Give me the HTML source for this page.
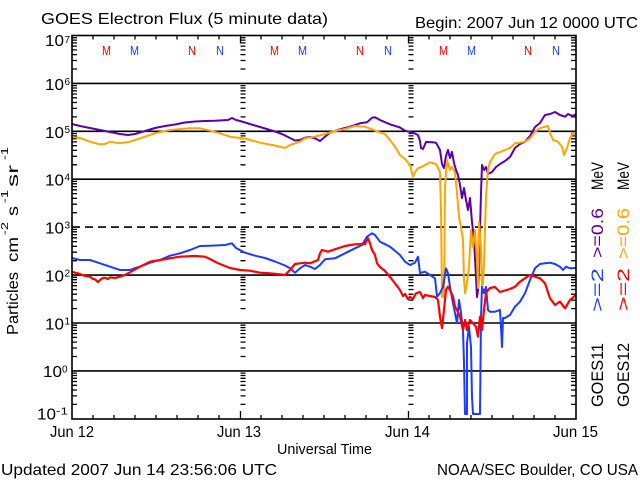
<!DOCTYPE html>
<html><head><meta charset="utf-8"><style>
html,body{margin:0;padding:0;background:#fff;}
svg{display:block;}
text{font-family:"Liberation Sans",sans-serif;fill:#000;}
</style></head><body>
<svg width="640" height="480" viewBox="0 0 640 480" xmlns="http://www.w3.org/2000/svg">
<defs>
<path id="tk" d="M0 37.7h5M0 40.1h5M0 42.9h5M0 46.1h5M0 49.9h5M0 54.6h5M0 60.5h5M0 69h5
M0 85.6h5M0 88h5M0 90.8h5M0 94h5M0 97.8h5M0 102.5h5M0 108.4h5M0 116.9h5
M0 133.5h5M0 135.9h5M0 138.7h5M0 141.9h5M0 145.7h5M0 150.4h5M0 156.3h5M0 164.8h5
M0 181.4h5M0 183.8h5M0 186.6h5M0 189.8h5M0 193.6h5M0 198.3h5M0 204.2h5M0 212.7h5
M0 229.4h5M0 231.8h5M0 234.6h5M0 237.8h5M0 241.6h5M0 246.3h5M0 252.2h5M0 260.7h5
M0 277.3h5M0 279.7h5M0 282.5h5M0 285.7h5M0 289.5h5M0 294.2h5M0 300.1h5M0 308.6h5
M0 325.2h5M0 327.6h5M0 330.4h5M0 333.6h5M0 337.4h5M0 342.1h5M0 348h5M0 356.5h5
M0 373.1h5M0 375.5h5M0 378.3h5M0 381.5h5M0 385.3h5M0 390h5M0 395.9h5M0 404.4h5" stroke="#000" stroke-width="1.3" fill="none"/>
</defs>

<text x="41" y="24" font-size="16" textLength="287" lengthAdjust="spacingAndGlyphs">GOES Electron Flux (5 minute data)</text>
<text x="415" y="28" font-size="16" textLength="223" lengthAdjust="spacingAndGlyphs">Begin: 2007 Jun 12 0000 UTC</text>

<g stroke="#000" stroke-width="1.6" fill="none">
<line x1="72" y1="83.4" x2="576" y2="83.4"/>
<line x1="72" y1="131.3" x2="576" y2="131.3"/>
<line x1="72" y1="179.2" x2="576" y2="179.2"/>
<line x1="72" y1="275.1" x2="576" y2="275.1"/>
<line x1="72" y1="323" x2="576" y2="323"/>
<line x1="72" y1="370.9" x2="576" y2="370.9"/>
<line x1="72" y1="227.1" x2="576" y2="227.1" stroke-dasharray="8,5"/>
</g>

<use href="#tk" x="72"/>
<use href="#tk" x="240.5"/>
<use href="#tk" x="408.5"/>
<use href="#tk" x="571"/>

<g stroke="#000" stroke-width="1.3">
<path d="M93 419v-4M114 419v-4M135 419v-4M156 419v-4M177 419v-4M198 419v-4M219 419v-4M240.5 419v-8M261 419v-4M282 419v-4M303 419v-4M324 419v-4M345 419v-4M366 419v-4M387 419v-4M408.5 419v-8M429 419v-4M450 419v-4M471 419v-4M492 419v-4M513 419v-4M534 419v-4M555 419v-4"/>
<path d="M93 35.5v4M114 35.5v4M135 35.5v4M156 35.5v4M177 35.5v4M198 35.5v4M219 35.5v4M240.5 35.5v8M261 35.5v4M282 35.5v4M303 35.5v4M324 35.5v4M345 35.5v4M366 35.5v4M387 35.5v4M408.5 35.5v8M429 35.5v4M450 35.5v4M471 35.5v4M492 35.5v4M513 35.5v4M534 35.5v4M555 35.5v4"/>
</g>

<g font-size="13">
<text x="102" y="55" style="fill:#f00" textLength="9" lengthAdjust="spacingAndGlyphs">M</text>
<text x="130" y="55" style="fill:#1e3cff" textLength="9" lengthAdjust="spacingAndGlyphs">M</text>
<text x="188" y="55" style="fill:#f00" textLength="8" lengthAdjust="spacingAndGlyphs">N</text>
<text x="216" y="55" style="fill:#1e3cff" textLength="8" lengthAdjust="spacingAndGlyphs">N</text>
<text x="270" y="55" style="fill:#f00" textLength="9" lengthAdjust="spacingAndGlyphs">M</text>
<text x="298" y="55" style="fill:#1e3cff" textLength="9" lengthAdjust="spacingAndGlyphs">M</text>
<text x="356" y="55" style="fill:#f00" textLength="8" lengthAdjust="spacingAndGlyphs">N</text>
<text x="384" y="55" style="fill:#1e3cff" textLength="8" lengthAdjust="spacingAndGlyphs">N</text>
<text x="439" y="55" style="fill:#f00" textLength="9" lengthAdjust="spacingAndGlyphs">M</text>
<text x="467" y="55" style="fill:#1e3cff" textLength="9" lengthAdjust="spacingAndGlyphs">M</text>
<text x="524" y="55" style="fill:#f00" textLength="8" lengthAdjust="spacingAndGlyphs">N</text>
<text x="552" y="55" style="fill:#1e3cff" textLength="8" lengthAdjust="spacingAndGlyphs">N</text>
</g>

<g fill="none" stroke-linejoin="round" stroke-width="2">
<polyline stroke="#5a00aa" points="72,124 80,126 90,128 100,130 110,132 120,134 128,135 135,134 145,131 155,128 165,126 175,124.5 185,122.5 195,121.5 205,121 215,120.8 228,120 232,118 236,120 240,121 245,122.5 255,125.5 265,128.5 275,131.5 282,134 288,137 295,140.5 300,140 305,137.7 310,137 315,138.3 320,141 325,136.7 330,132.7 340,129.3 350,126.7 360,123.3 367,122.3 372,117.7 375,117.3 380,120 390,124.3 400,127.5 405,130.7 413,132.7 418,135 420,141 421,148 423,149 426,142 432,142.3 436,142.7 440,150 442,164 444,168 446,156 448,150 450,158 452,152 454,163 456,170 458,175 460,185 462,198 464,188 466,200 468,210 470,198 472,222 474,240 476,277 477,297 478,290 479,270 480,230 481,193 482,165 484,170 486,167 488,174 492,172 496,167 500,164 505,161 510,157 515,148 520,144 525,141.7 530,136 535,127 540,123 545,115 550,114 555,112 560,115 565,116.7 568,114 570,115 573,116 576,114"/>
<polyline stroke="#ffa500" points="72,137 80,138 90,141.7 100,144.3 105,144 110,141.7 120,143.3 130,141.7 140,138.3 155,133.3 170,130 190,128.3 200,128.3 210,130.7 220,133.3 230,136.7 245,138.5 260,142.7 275,145.5 285,148 290,145 300,141.7 305,138.3 315,136.7 325,134 335,131 345,129 355,126 365,126.7 372,129.3 378,131.7 385,134 390,140 395,146.7 400,155 405,159 410,165 413,176.7 415,172 418,168.3 422,166.7 430,162.3 436,164 440,172 441,210 442,297 444,297 445,187 447,160 450,170 452,166.7 455,173 457,193 459,217 461,227 463,240 464,280 465,293 467,283 469,267 471,230 473,247 475,230 477,260 478,288 479,222 481,247 482,286 483,283 484,263 486,197 488,170 490,162 495,154 500,152 510,148 515,143.3 520,142.7 525,141.7 530,138.3 535,131.7 540,128.3 545,126.7 548,126 550,133 553,140 558,141.7 562,146.7 564,155 567,148 570,138 573,133 576,135"/>
<polyline stroke="#1e3cff" points="72,258 80,260 90,260 100,263.3 110,266.7 120,270 130,270 135,268 140,266.7 150,262.7 160,260 170,255.7 180,253.3 190,250 200,246 210,245.7 225,245 232,243.3 236,248 245,252.7 255,255.7 265,258 275,261.5 285,265.5 290,268.3 295,272.7 300,268.3 305,265 310,266.7 315,269 320,265 325,259.3 335,258.3 345,253.3 355,248.3 362,245 367,236.7 372,233.3 375,235 380,241.7 390,246.7 400,255 405,261.7 410,265 415,262.7 418,256.7 420,273 425,271.7 430,275 435,278.3 437,296.7 440,293 443,287 446,268.3 448,273.3 450,286.7 452,298 455,313 457,323 459,300 461,313 463,330 464,363 465,414 467,414 467,343 469,327 471,347 472,397 473,414 480,414 481,317 482,287 484,293 486,287 488,310 490,311.7 495,311.7 500,310 501,327 502,347 503,318 505,318 510,315 515,306.7 520,301.7 525,293.3 530,280 535,268.3 540,264 545,263.3 550,262.7 555,264 560,266.7 563,270 566,266.7 570,268.3 576,268"/>
<polyline stroke="#ff0000" stroke-width="2.2" points="72,271.7 76,273 80,274 85,276 90,276.7 93,279 95,279.3 98,282 100,280 103,278 105,277.7 108,279 110,277.3 115,278 120,276.7 125,275 130,272.3 140,266.7 150,261.7 160,260 170,258.3 180,256.7 195,256 205,256.7 210,259 215,261.7 220,264 230,268 240,270 250,270.7 260,272.7 270,273.3 280,274.3 285,275 290,270 295,264 305,262.7 310,263.3 318,260 320,253.3 322,250 328,251.7 335,249.3 345,246 355,244.3 365,244 368,238.3 370,243.3 372,250 375,255 377,263.3 380,267 385,271 390,277 395,283.3 400,290 403,296 405,294 408,299 410,296.7 413,299 416,293.3 420,292 423,298 425,295 430,296 435,297 438,300 440,316.7 442,328 444,310 446,290 448,286.7 450,290 453,296.7 455,306.7 457,310 460,316.7 463,330 465,320 467,330 470,320 473,323.3 476,326.7 478,336.7 480,316.7 482,330 484,310 486,293.3 488,290 490,288 495,287 500,292 505,290.5 510,289 515,286.7 520,281.7 525,278.3 530,275 535,276.7 540,278.3 545,283.3 550,298.3 555,305 560,301.7 565,308.3 570,300 576,295"/>
</g>

<rect x="72" y="35.5" width="504" height="383.5" fill="none" stroke="#000" stroke-width="1.6"/>

<g font-size="16">
<text x="45" y="46" textLength="19" lengthAdjust="spacingAndGlyphs">10</text>
<text x="45" y="90" textLength="19" lengthAdjust="spacingAndGlyphs">10</text>
<text x="45" y="137.8" textLength="19" lengthAdjust="spacingAndGlyphs">10</text>
<text x="45" y="185.7" textLength="19" lengthAdjust="spacingAndGlyphs">10</text>
<text x="45" y="233.6" textLength="19" lengthAdjust="spacingAndGlyphs">10</text>
<text x="45" y="281.6" textLength="19" lengthAdjust="spacingAndGlyphs">10</text>
<text x="45" y="329.5" textLength="19" lengthAdjust="spacingAndGlyphs">10</text>
<text x="43" y="377" textLength="19" lengthAdjust="spacingAndGlyphs">10</text>
<text x="37" y="419.5" textLength="19" lengthAdjust="spacingAndGlyphs">10</text>
</g>
<g font-size="10">
<text x="64.5" y="43">7</text>
<text x="64.5" y="85">6</text>
<text x="64.5" y="132.8">5</text>
<text x="64.5" y="180.7">4</text>
<text x="64.5" y="228.6">3</text>
<text x="64.5" y="276.6">2</text>
<text x="64.5" y="324.5">1</text>
<text x="62" y="372.5">0</text>
<text x="56" y="414.5" textLength="12" lengthAdjust="spacingAndGlyphs">-1</text>
</g>

<g font-size="16">
<text x="50" y="437" textLength="44" lengthAdjust="spacingAndGlyphs">Jun 12</text>
<text x="217" y="437" textLength="44" lengthAdjust="spacingAndGlyphs">Jun 13</text>
<text x="385" y="437" textLength="45" lengthAdjust="spacingAndGlyphs">Jun 14</text>
<text x="553" y="437" textLength="45" lengthAdjust="spacingAndGlyphs">Jun 15</text>
<text x="277" y="454" font-size="15" textLength="95" lengthAdjust="spacingAndGlyphs">Universal Time</text>
<text x="1" y="475" textLength="276" lengthAdjust="spacingAndGlyphs">Updated 2007 Jun 14 23:56:06 UTC</text>
<text x="437" y="475" textLength="201" lengthAdjust="spacingAndGlyphs">NOAA/SEC Boulder, CO USA</text>
</g>

<g transform="rotate(-90)">
<text x="-335" y="18" font-size="16" textLength="63" lengthAdjust="spacingAndGlyphs">Particles</text>
<text x="-262" y="18" font-size="16" textLength="25" lengthAdjust="spacingAndGlyphs">cm</text>
<text x="-235" y="8" font-size="10" textLength="13" lengthAdjust="spacingAndGlyphs">-2</text>
<text x="-216" y="18" font-size="16" textLength="10" lengthAdjust="spacingAndGlyphs">s</text>
<text x="-203" y="8" font-size="10" textLength="13" lengthAdjust="spacingAndGlyphs">-1</text>
<text x="-187" y="18" font-size="16" textLength="22" lengthAdjust="spacingAndGlyphs">sr</text>
<text x="-160" y="8" font-size="10" textLength="13" lengthAdjust="spacingAndGlyphs">-1</text>
</g>

<g transform="rotate(-90)" font-size="17">
<text x="-407" y="603" textLength="64" lengthAdjust="spacingAndGlyphs">GOES11</text>
<text x="-312" y="603" style="fill:#1e3cff" textLength="44" lengthAdjust="spacingAndGlyphs">&gt;=2</text>
<text x="-258" y="603" style="fill:#5a00aa" textLength="50" lengthAdjust="spacingAndGlyphs">&gt;=0.6</text>
<text x="-190" y="603" textLength="28" lengthAdjust="spacingAndGlyphs">MeV</text>
<text x="-407" y="629" textLength="64" lengthAdjust="spacingAndGlyphs">GOES12</text>
<text x="-311" y="629" style="fill:#ff0000" textLength="43" lengthAdjust="spacingAndGlyphs">&gt;=2</text>
<text x="-259" y="629" style="fill:#ffa500" textLength="51" lengthAdjust="spacingAndGlyphs">&gt;=0.6</text>
<text x="-190" y="629" textLength="28" lengthAdjust="spacingAndGlyphs">MeV</text>
</g>
</svg>
</body></html>
